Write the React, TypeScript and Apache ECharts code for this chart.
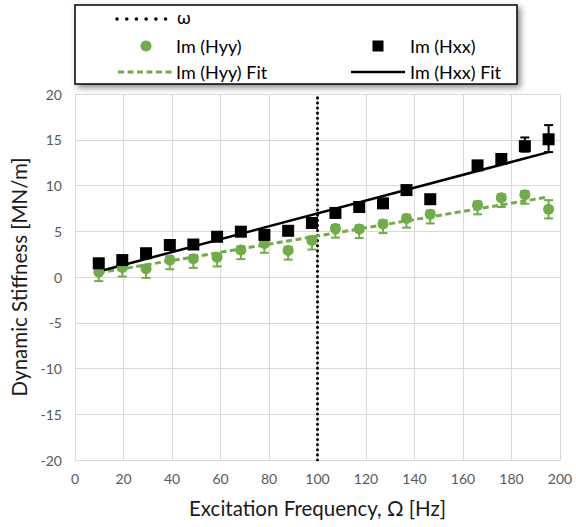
import React, { useEffect, useRef } from "react";
import * as echarts from "echarts";

const freq = [9.8, 19.5, 29.3, 39.1, 48.8, 58.6, 68.4, 78.1, 87.9, 97.7, 107.4, 117.2, 127.0, 136.7, 146.5, 166.0, 175.8, 185.5, 195.3];
const hxx = [1.5, 1.85, 2.6, 3.5, 3.55, 4.4, 4.95, 4.6, 5.05, 5.9, 7.0, 7.65, 8.05, 9.5, 8.5, 12.2, 12.9, 14.3, 15.05];
const hxxErrMinus = [0.3, 0.3, 0.3, 0.3, 0.3, 0.3, 0.3, 0.3, 0.3, 0.3, 0.3, 0.3, 0.3, 0.3, 0.3, 0.3, 0.3, 0.6, 1.4];
const hxxErrPlus = [0.3, 0.3, 0.3, 0.3, 0.3, 0.3, 0.3, 0.3, 0.3, 0.3, 0.3, 0.3, 0.3, 0.3, 0.3, 0.3, 0.3, 0.95, 1.55];
const hyy = [0.55, 1.05, 0.9, 1.85, 2.0, 2.15, 2.95, 3.65, 2.9, 4.0, 5.3, 5.25, 5.8, 6.4, 6.85, 7.85, 8.65, 9.0, 7.4];
const hyyErrMinus = [1.0, 1.0, 1.0, 1.0, 1.0, 1.0, 1.0, 1.0, 1.0, 1.0, 1.0, 1.0, 1.0, 1.0, 1.0, 1.0, 1.0, 1.0, 1.0];
const hyyErrPlus = [0.4, 0.4, 0.4, 0.4, 0.4, 0.4, 0.4, 0.4, 0.4, 0.4, 0.4, 0.4, 0.4, 0.4, 0.4, 0.4, 0.4, 0.4, 1.0];
const fitFreq = [9.8, 195.3];
const hxxFit = [0.6, 13.65];
const hyyFit = [0.45, 8.75];
const omegaFreq = [100, 100];
const omegaY = [-20, 20];
const xTicks = { min: 0, max: 200, interval: 20 };
const yTicks = { min: -20, max: 20, interval: 5 };

const GREEN = "#70ad47";
const BLACK = "#000000";
const FONT = "Lato";

function errorBars(color: string) {
  return (params: any, api: any) => {
    const x = api.value(0);
    const y = api.value(1);
    const lo = api.value(2);
    const hi = api.value(3);
    const pHi = api.coord([x, y + hi]);
    const pLo = api.coord([x, y - lo]);
    const w = 4.5;
    const style = { stroke: color, lineWidth: 2 };
    return {
      type: "group",
      children: [
        { type: "line", shape: { x1: pHi[0], y1: pHi[1], x2: pLo[0], y2: pLo[1] }, style },
        { type: "line", shape: { x1: pHi[0] - w, y1: pHi[1], x2: pHi[0] + w, y2: pHi[1] }, style },
        { type: "line", shape: { x1: pLo[0] - w, y1: pLo[1], x2: pLo[0] + w, y2: pLo[1] }, style },
      ],
    };
  };
}

export default function App() {
  const ref = useRef<HTMLDivElement>(null);
  useEffect(() => {
    document.body.style.margin = "0";
    const chart = echarts.init(ref.current!, null, { renderer: "svg" });
    const legendText = (text: string, x: number, y: number) => ({
      type: "text",
      x,
      y,
      style: { text, fill: "#000", font: `18px ${FONT}`, textVerticalAlign: "middle", verticalAlign: "middle" },
      z: 101,
    });
    chart.setOption({
      animation: false,
      textStyle: { fontFamily: FONT },
      grid: { left: 75, right: 16, top: 94, bottom: 67 },
      xAxis: {
        type: "value",
        ...xTicks,
        name: "Excitation Frequency, Ω [Hz]",
        nameLocation: "middle",
        nameGap: 37,
        nameTextStyle: { fontSize: 20.5, color: "#1a1a1a", fontFamily: FONT },
        axisLine: { onZero: false, lineStyle: { color: "#d9d9d9", width: 1 } },
        axisTick: { show: false },
        axisLabel: { color: "#595959", fontSize: 14, margin: 11, fontFamily: FONT },
        splitLine: { lineStyle: { color: "#d9d9d9", width: 1 } },
      },
      yAxis: {
        type: "value",
        ...yTicks,
        name: "Dynamic Stiffness [MN/m]",
        nameLocation: "middle",
        nameGap: 43,
        nameTextStyle: { fontSize: 20.5, color: "#1a1a1a", fontFamily: FONT },
        axisLine: { show: true, onZero: false, lineStyle: { color: "#d9d9d9", width: 1 } },
        axisTick: { show: false },
        axisLabel: { color: "#595959", fontSize: 14, margin: 13, fontFamily: FONT },
        splitLine: { lineStyle: { color: "#d9d9d9", width: 1 } },
      },
      series: [
        {
          name: "ω",
          type: "line",
          data: omegaFreq.map((f, i) => [f, omegaY[i]]),
          symbol: "none",
          lineStyle: { color: BLACK, width: 3, type: [0.1, 5], cap: "round" },
          z: 3,
        },
        {
          name: "Im (Hyy) Fit",
          type: "line",
          data: fitFreq.map((f, i) => [f, hyyFit[i]]),
          symbol: "none",
          lineStyle: { color: GREEN, width: 3, type: [6, 3.5] },
          z: 4,
        },
        {
          name: "Im (Hxx) Fit",
          type: "line",
          data: fitFreq.map((f, i) => [f, hxxFit[i]]),
          symbol: "none",
          lineStyle: { color: BLACK, width: 2.5 },
          z: 4,
        },
        {
          name: "Hyy err",
          type: "custom",
          renderItem: errorBars(GREEN),
          encode: { x: 0, y: 1 },
          data: freq.map((f, i) => [f, hyy[i], hyyErrMinus[i], hyyErrPlus[i]]),
          z: 5,
        },
        {
          name: "Hxx err",
          type: "custom",
          renderItem: errorBars(BLACK),
          encode: { x: 0, y: 1 },
          data: freq.map((f, i) => [f, hxx[i], hxxErrMinus[i], hxxErrPlus[i]]),
          z: 5,
        },
        {
          name: "Im (Hyy)",
          type: "scatter",
          data: freq.map((f, i) => [f, hyy[i]]),
          symbol: "circle",
          symbolSize: 11,
          itemStyle: { color: GREEN, opacity: 1 },
          z: 6,
        },
        {
          name: "Im (Hxx)",
          type: "scatter",
          data: freq.map((f, i) => [f, hxx[i]]),
          symbol: "rect",
          symbolSize: 12,
          itemStyle: { color: BLACK, opacity: 1 },
          z: 6,
        },
      ],
      graphic: [
        {
          type: "rect",
          shape: { x: 75, y: 5, width: 442, height: 79 },
          style: { fill: "#fff", stroke: "#000", lineWidth: 1.5, shadowBlur: 6, shadowOffsetX: 3, shadowOffsetY: 3, shadowColor: "rgba(0,0,0,0.45)" },
          z: 100,
        },
        {
          type: "line",
          shape: { x1: 117, y1: 19, x2: 170, y2: 19 },
          style: { stroke: BLACK, lineWidth: 3.5, lineDash: [0.1, 9.6], lineCap: "round" },
          z: 101,
        },
        legendText("ω", 177, 17),
        { type: "circle", shape: { cx: 146, cy: 46, r: 5.5 }, style: { fill: GREEN }, z: 101 },
        legendText("Im (Hyy)", 176, 46),
        { type: "rect", shape: { x: 372.5, y: 40.5, width: 11, height: 11 }, style: { fill: BLACK }, z: 101 },
        legendText("Im (Hxx)", 410, 46),
        {
          type: "line",
          shape: { x1: 118, y1: 72, x2: 172, y2: 72 },
          style: { stroke: GREEN, lineWidth: 3, lineDash: [6, 3.5] },
          z: 101,
        },
        legendText("Im (Hyy) Fit", 176, 72),
        {
          type: "line",
          shape: { x1: 351, y1: 72, x2: 405, y2: 72 },
          style: { stroke: BLACK, lineWidth: 2.5 },
          z: 101,
        },
        legendText("Im (Hxx) Fit", 410, 72),
      ],
    });
    return () => chart.dispose();
  }, []);
  return <div ref={ref} style={{ width: 576, height: 527 }} />;
}
